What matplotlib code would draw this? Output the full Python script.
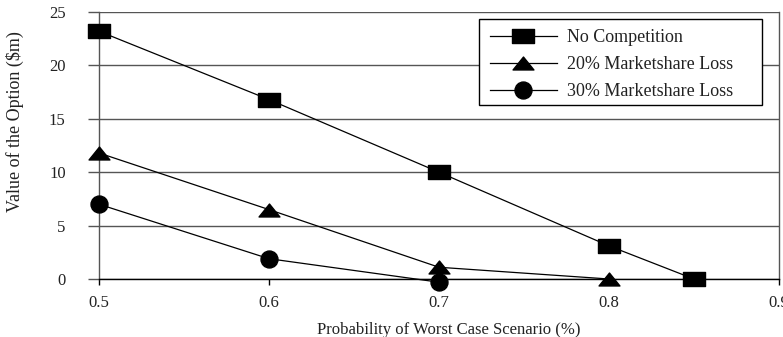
"""Value of the option vs probability of the worst case scenario."""

import matplotlib
matplotlib.use("Agg")
import matplotlib.pyplot as plt
import matplotlib.patches as mpatches
from matplotlib.path import Path as MplPath

INK = "#000000"
GRID = "#555555"
TEXT = "#222222"

plt.rcParams["font.family"] = ["Liberation Serif", "DejaVu Serif"]

# data
prob_none = [0.5, 0.6, 0.7, 0.8, 0.85]
value_none = [23.2, 16.8, 10.0, 3.1, 0.0]
prob_20 = [0.5, 0.6, 0.7, 0.8]
value_20 = [11.8, 6.5, 1.1, 0.0]
prob_30 = [0.5, 0.6, 0.7]
value_30 = [7.0, 1.9, -0.3]

series_labels = ["No Competition", "20% Marketshare Loss", "30% Marketshare Loss"]
x_ticks = [0.5, 0.6, 0.7, 0.8, 0.9]
y_ticks = [0, 5, 10, 15, 20, 25]

# wide markers (the original figure was stretched horizontally)
RECT = MplPath([(-1, -0.64), (1, -0.64), (1, 0.64), (-1, 0.64), (-1, -0.64)],
               [MplPath.MOVETO, MplPath.LINETO, MplPath.LINETO, MplPath.LINETO,
                MplPath.CLOSEPOLY])
TRI = MplPath([(-1, -0.62), (1, -0.62), (0, 0.62), (-1, -0.62)],
              [MplPath.MOVETO, MplPath.LINETO, MplPath.LINETO, MplPath.CLOSEPOLY])

fig = plt.figure(figsize=(7.83, 3.37), dpi=100)
ax = fig.add_axes([0.1264, 0.1721, 0.8685, 0.7923])

line_kw = dict(color=INK, linewidth=0.9, markerfacecolor=INK,
               markeredgecolor=INK, clip_on=False, zorder=3)
ax.plot(prob_none, value_none, marker=RECT, markersize=15.8,
        label=series_labels[0], **line_kw)
ax.plot(prob_20, value_20, marker=TRI, markersize=15.0,
        label=series_labels[1], **line_kw)
ax.plot(prob_30, value_30, marker="o", markersize=12.2,
        label=series_labels[2], **line_kw)

ax.set_xlim(0.5, 0.9)
ax.set_ylim(0, 25)
ax.set_xticks(x_ticks)
ax.set_yticks(y_ticks)
ax.set_xticklabels([f"{t:.1f}" for t in x_ticks])
ax.grid(axis="y", color=GRID, linewidth=1.0, zorder=1)
ax.set_axisbelow(True)

ax.spines["top"].set_visible(False)
ax.spines["bottom"].set_color(INK)
ax.spines["left"].set_color(GRID)
ax.spines["right"].set_color(GRID)
for s in ax.spines.values():
    s.set_linewidth(1.0)

ax.tick_params(axis="y", length=8, width=1.0, color=GRID, pad=16,
               labelsize=12, labelcolor=TEXT)
ax.tick_params(axis="x", length=4.5, width=1.0, color=INK, pad=7,
               labelsize=12, labelcolor=TEXT)

ax.set_ylabel(r"Value of the Option (\$m)", fontsize=13, color=TEXT)
ax.yaxis.set_label_coords(-0.11, 0.59)
ax.set_xlabel("Probability of Worst Case Scenario (%)", fontsize=12, color=TEXT)
ax.xaxis.set_label_coords(0.515, -0.16)

# legend frame drawn separately: the original has extra room on the right
ax.add_patch(mpatches.Rectangle((0.559, 0.652), 0.416, 0.322, transform=ax.transAxes,
                                facecolor="white", edgecolor=INK, linewidth=1.0,
                                zorder=4, clip_on=False))
leg = ax.legend(loc="upper left", bbox_to_anchor=(0.575, 0.936), fontsize=13,
                frameon=False, handlelength=3.7, handletextpad=0.55,
                labelspacing=0.56, borderpad=0.0, borderaxespad=0.0)
leg.set_zorder(5)
for t in leg.get_texts():
    t.set_color(TEXT)

fig.savefig("out.png", dpi=100, facecolor="white")
